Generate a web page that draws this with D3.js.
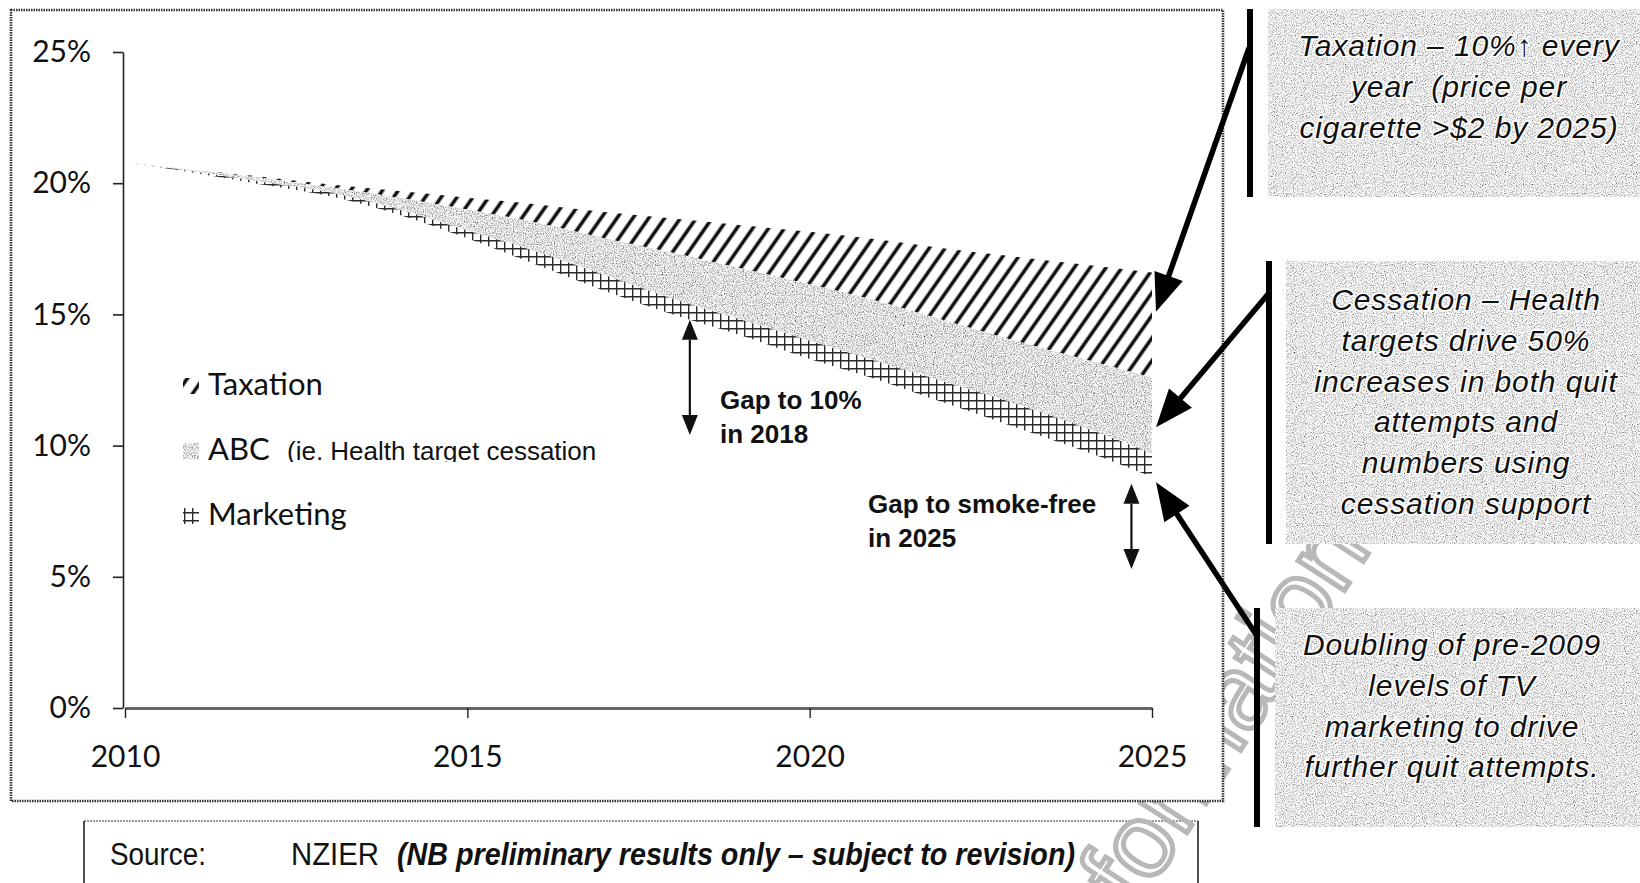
<!DOCTYPE html>
<html>
<head>
<meta charset="utf-8">
<script src="https://cdn.jsdelivr.net/npm/d3@7"></script>
<style>
  body { margin: 0; background: #fff; }
  svg { display: block; }
</style>
</head>
<body>
<script>
// smoking prevalence scenarios (%)
const years = d3.range(2010, 2026);
const statusQuo      = [20.8, 20.5, 20.25, 19.95, 19.7, 19.45, 19.2, 18.9, 18.65, 18.4, 18.15, 17.85, 17.5, 17.2, 16.9, 16.6];
const afterTaxation  = [20.8, 20.5, 20.2, 19.85, 19.45, 19.0, 18.5, 17.9, 17.35, 16.75, 16.15, 15.5, 14.75, 14.0, 13.3, 12.6];
const afterABC       = [20.8, 20.45, 20.05, 19.65, 19.0, 18.2, 17.4, 16.5, 15.6, 14.8, 14.0, 13.2, 12.4, 11.6, 10.7, 9.7];
const afterMarketing = [20.8, 20.4, 19.95, 19.5, 18.8, 17.9, 16.9, 15.9, 15.0, 14.2, 13.3, 12.5, 11.6, 10.7, 9.8, 8.8];

const yTicks = [0, 5, 10, 15, 20, 25];
const xTicks = [2010, 2015, 2020, 2025];
const legendNames = ["Taxation", "ABC", "Marketing"];

// gap arrows: [year, from %, to %]
const gapArrows = [[2018.25, 14.8, 10.4], [2024.7, 8.55, 5.3]];
// pointers from the side boxes to the 2025 end of each band (%)
const pointerTargets = [15.1, 10.7, 8.6];

const boxTexts = [
  ["Taxation \u2013 10%\u2191 every", "year  (price per", "cigarette >$2 by 2025)"],
  ["Cessation \u2013 Health", "targets drive 50%", "increases in both quit", "attempts and", "numbers using", "cessation support"],
  ["Doubling of pre-2009", "levels of TV", "marketing to drive", "further quit attempts."]
];

const W = 1640, H = 883;
const svg = d3.select("body").append("svg").attr("width", W).attr("height", H);
const defs = svg.append("defs");

// diagonal hatch
defs.append("pattern").attr("id", "hatch")
  .attr("patternUnits", "userSpaceOnUse").attr("width", 13).attr("height", 13)
  .attr("patternTransform", "rotate(35)")
  .append("line").attr("x1", 6.5).attr("y1", 0).attr("x2", 6.5).attr("y2", 13)
  .attr("stroke", "#111").attr("stroke-width", 3.6);

// cross hatch
const cross = defs.append("pattern").attr("id", "cross")
  .attr("patternUnits", "userSpaceOnUse").attr("width", 8).attr("height", 8);
cross.append("rect").attr("width", 8).attr("height", 8).attr("fill", "#fff");
cross.append("path").attr("d", "M0,0.7H8M0.7,0V8").attr("stroke", "#2a2a2a").attr("stroke-width", 1.4);

// grainy grey fills
function grain(id, gain, offset, seed) {
  const f = defs.append("filter").attr("id", id)
    .attr("x", 0).attr("y", 0).attr("width", 1).attr("height", 1);
  f.append("feTurbulence").attr("type", "fractalNoise").attr("baseFrequency", 0.9)
    .attr("numOctaves", 2).attr("seed", seed).attr("result", "n");
  f.append("feColorMatrix").attr("in", "n").attr("type", "matrix")
    .attr("values", `${gain} 0 0 0 ${offset}  ${gain} 0 0 0 ${offset}  ${gain} 0 0 0 ${offset}  0 0 0 0 1`)
    .attr("result", "g");
  f.append("feComposite").attr("in", "g").attr("in2", "SourceGraphic").attr("operator", "in");
}
grain("stipple", 1.9, -0.2, 3);
grain("boxgrain", 1.9, -0.14, 9);

// source box
const narrow = "'Liberation Sans', Arial, sans-serif";
svg.append("line").attr("x1", 84).attr("x2", 1198).attr("y1", 821).attr("y2", 821)
  .attr("stroke", "#999").attr("stroke-width", 2).attr("stroke-dasharray", "2,1");
svg.append("line").attr("x1", 84).attr("x2", 84).attr("y1", 821).attr("y2", H)
  .attr("stroke", "#222").attr("stroke-width", 1.6);
svg.append("line").attr("x1", 1198).attr("x2", 1198).attr("y1", 821).attr("y2", H)
  .attr("stroke", "#222").attr("stroke-width", 1.6);
[["Source:", 110, 96, false], ["NZIER", 291, 88, false],
 ["(NB preliminary results only \u2013 subject to revision)", 397, 678, true]].forEach(([t, tx, len, em]) => {
  const s = svg.append("text").attr("x", tx).attr("y", 865)
    .attr("textLength", len).attr("lengthAdjust", "spacingAndGlyphs")
    .style("font-family", narrow).style("font-size", "31px").attr("fill", "#111").text(t);
  if (em) s.style("font-weight", "bold").style("font-style", "italic");
});

// watermark
svg.append("text")
  .attr("transform", "translate(1372,548) rotate(-57)")
  .attr("text-anchor", "end")
  .style("font-family", "'Liberation Sans', Arial, sans-serif")
  .style("font-size", "104px")
  .attr("fill", "none").attr("stroke", "#b8b8b8").attr("stroke-width", 5)
  .text("Information");

// chart frame
svg.append("rect").attr("x", 11).attr("y", 10).attr("width", 1212).attr("height", 791)
  .attr("fill", "#fff").attr("stroke", "#333").attr("stroke-width", 2.6)
  .attr("stroke-dasharray", "1.5,1");

const x = d3.scaleLinear().domain([2010, 2025]).range([125, 1152]);
const y = d3.scaleLinear().domain([0, 25]).range([708, 52]);

const rows = years.map((yr, i) => ({
  year: yr, sq: statusQuo[i], tax: afterTaxation[i], abc: afterABC[i], mkt: afterMarketing[i]
}));

const band = (lo, hi) => d3.area()
  .x(d => x(d.year)).y0(d => y(d[lo])).y1(d => y(d[hi]))
  .curve(d3.curveMonotoneX);

const g = svg.append("g");
g.append("path").datum(rows).attr("d", band("tax", "sq")).attr("fill", "url(#hatch)");
g.append("path").datum(rows).attr("d", band("abc", "tax")).attr("fill", "#000").attr("filter", "url(#stipple)");
g.append("path").datum(rows).attr("d", band("mkt", "abc")).attr("fill", "url(#cross)");

// axes
const axisFont = "Lato, 'Open Sans', sans-serif";
const yAxis = g.append("g").attr("transform", `translate(${x(2010) - 2},0)`)
  .call(d3.axisLeft(y).tickValues(yTicks).tickFormat(d => d + "%").tickSize(10).tickSizeOuter(0).tickPadding(22));
yAxis.select(".domain").attr("stroke", "#222").attr("stroke-width", 1.6);
yAxis.selectAll(".tick line").attr("stroke", "#222").attr("stroke-width", 1.6);
yAxis.selectAll("text").style("font-family", axisFont).style("font-size", "30px").attr("fill", "#111");

const xAxis = g.append("g").attr("transform", `translate(0,${y(0)})`)
  .call(d3.axisBottom(x).tickValues(xTicks).tickFormat(d3.format("d")).tickSize(10).tickSizeOuter(0).tickPadding(28));
xAxis.select(".domain").attr("stroke", "#666").attr("stroke-width", 3);
xAxis.selectAll(".tick line").attr("stroke", "#222").attr("stroke-width", 1.4);
xAxis.selectAll("text").style("font-family", axisFont).style("font-size", "30px").attr("fill", "#111");

// legend
const fills = ["url(#hatch)", "#000", "url(#cross)"];
legendNames.forEach((name, i) => {
  const by = 395 + i * 65;
  const sw = g.append("rect").attr("x", 183).attr("y", by - 17).attr("width", 16).attr("height", 16)
    .attr("fill", fills[i]);
  if (i === 1) sw.attr("filter", "url(#stipple)");
  g.append("text").attr("x", 208).attr("y", by)
    .style("font-family", axisFont).style("font-size", "31px").attr("fill", "#111").text(name);
});
defs.append("clipPath").attr("id", "cut").append("rect")
  .attr("x", 280).attr("y", 430).attr("width", 400).attr("height", 32);
g.append("text").attr("x", 287).attr("y", 460).attr("clip-path", "url(#cut)")
  .style("font-family", "'Liberation Sans', Arial, sans-serif").style("font-size", "26px")
  .attr("fill", "#111").text("(ie. Health target cessation");

// double-headed gap arrows
function doubleArrow(xp, y1, y2) {
  const hw = 8, hl = 20;
  g.append("line").attr("x1", xp).attr("x2", xp).attr("y1", y1 + hl).attr("y2", y2 - hl)
    .attr("stroke", "#111").attr("stroke-width", 2.2);
  g.append("path").attr("d", `M${xp},${y1}L${xp - hw},${y1 + hl}L${xp + hw},${y1 + hl}Z`).attr("fill", "#111");
  g.append("path").attr("d", `M${xp},${y2}L${xp - hw},${y2 - hl}L${xp + hw},${y2 - hl}Z`).attr("fill", "#111");
}
gapArrows.forEach(([yr, a, b]) => doubleArrow(x(yr), y(a), y(b)));

const boldFont = "'Liberation Sans', Arial, sans-serif";
[["Gap to 10%", 720, 409], ["in 2018", 720, 443], ["Gap to smoke-free", 868, 513], ["in 2025", 868, 547]]
  .forEach(([t, tx, ty]) => {
    g.append("text").attr("x", tx).attr("y", ty)
      .style("font-family", boldFont).style("font-size", "26px").style("font-weight", "bold")
      .attr("fill", "#111").text(t);
  });

// side boxes
const boxes = [
  { x: 1268, y: 9, w: 372, h: 188, bar: 1250, cx: 1459, base: 56 },
  { x: 1286, y: 261, w: 354, h: 283, bar: 1269, cx: 1466, base: 310 },
  { x: 1275, y: 608, w: 365, h: 219, bar: 1257, cx: 1452, base: 655 }
];
const starts = [[1249, 48], [1269, 293], [1257, 636]];

boxes.forEach((b, i) => {
  svg.append("rect").attr("x", b.x).attr("y", b.y).attr("width", b.w).attr("height", b.h)
    .attr("fill", "#000").attr("filter", "url(#boxgrain)");
  svg.append("line").attr("x1", b.bar).attr("x2", b.bar).attr("y1", b.y).attr("y2", b.y + b.h)
    .attr("stroke", "#000").attr("stroke-width", 6);
  const t = svg.append("text").attr("text-anchor", "middle")
    .style("font-family", "'Liberation Sans', Arial, sans-serif").style("font-size", "30px")
    .style("font-style", "italic").style("white-space", "pre")
    .attr("fill", "#111").attr("stroke", "#fff").attr("stroke-width", 3)
    .attr("paint-order", "stroke").attr("letter-spacing", "0.9");
  boxTexts[i].forEach((line, k) => {
    t.append("tspan").attr("x", b.cx).attr("y", b.base + k * 40.8).text(line);
  });
});

// pointer arrows
function pointer(x1, y1, x2, y2) {
  const hl = 38, hw = 15;
  const dx = x2 - x1, dy = y2 - y1, len = Math.hypot(dx, dy);
  const ux = dx / len, uy = dy / len, px = -uy, py = ux;
  const bx = x2 - ux * hl, by = y2 - uy * hl;
  svg.append("line").attr("x1", x1).attr("y1", y1).attr("x2", bx + ux * 4).attr("y2", by + uy * 4)
    .attr("stroke", "#000").attr("stroke-width", 5.5);
  svg.append("path")
    .attr("d", `M${x2},${y2}L${bx + px * hw},${by + py * hw}L${bx - px * hw},${by - py * hw}Z`)
    .attr("fill", "#000");
}
pointerTargets.forEach((v, i) => pointer(starts[i][0], starts[i][1], x(2025) + 4, y(v)));
</script>
</body>
</html>
